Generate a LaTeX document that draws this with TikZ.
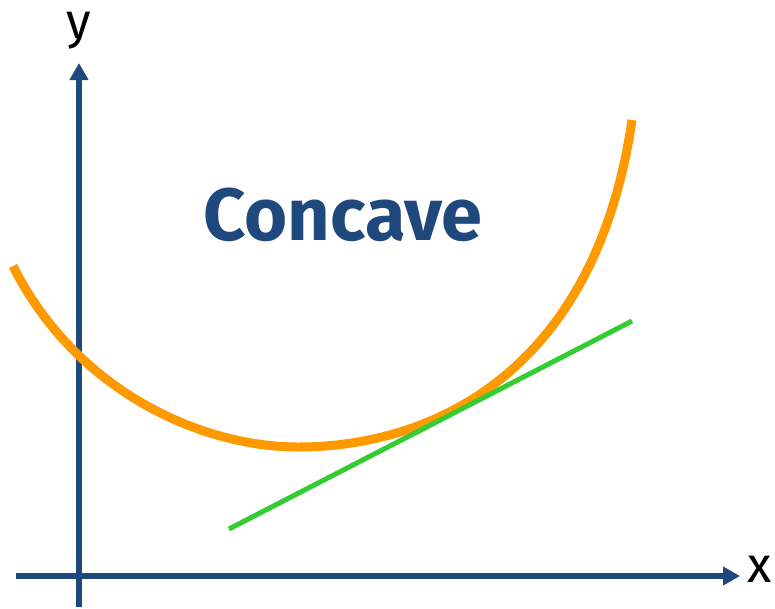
\documentclass[tikz,border=0pt]{standalone}
\usepackage{fontspec}
\setmainfont{Fira Sans}
\usetikzlibrary{positioning, arrows.meta, calc}
\definecolor{axisblue}{HTML}{1F497D}
\definecolor{curveorange}{HTML}{FF9900}
\definecolor{tangentgreen}{HTML}{33CC33}

\begin{document}
\begin{tikzpicture}[
  x=1pt, y=-1pt,
  axis/.style={draw=axisblue, line width=6pt, -{Triangle[length=17pt, width=18pt]}},
  curve/.style={draw=curveorange, line width=9pt},
  tangent/.style={draw=tangentgreen, line width=5pt},
  axislabel/.style={font=\fontsize{50}{50}\selectfont, text=black, inner sep=0pt},
  title/.style={font=\fontsize{74}{74}\selectfont\bfseries, text=axisblue, inner sep=0pt}
]
\useasboundingbox (0,0) rectangle (775,608);

\coordinate (xstart) at (16,576);
\coordinate (xend) at (740,576);
\coordinate (ystart) at (79,607);
\coordinate (yend) at (79,63);

\draw[axis] (xstart) -- (xend);
\draw[axis] (ystart) -- (yend);
\node[axislabel] (xlab) at (760,569) {x};
\node[axislabel] (ylab) at (79,31) {y};

% the curve: two halves meeting at the minimum
\coordinate (cleft) at (13,266);
\coordinate (cmin) at (298,447);
\coordinate (cright) at (632,120);
\draw[curve] (cleft) .. controls (75,390) and (200,447) .. (cmin)
  .. controls (430,447) and (595,375) .. (cright);

\coordinate (tstart) at (229,529);
\coordinate (tend) at (632,321);
\draw[tangent] (tstart) -- (tend);

\node[title] (name) at (343,215) {Concave};

\end{tikzpicture}
\end{document}
